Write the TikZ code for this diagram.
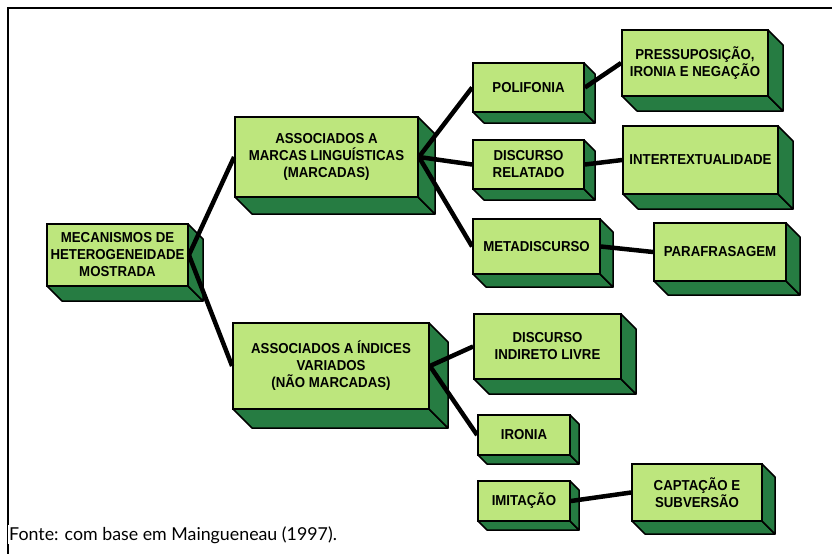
\documentclass[tikz,border=0pt]{standalone}
\usepackage{fontspec}
\setmainfont{Liberation Sans}
\newfontfamily\boxfont[FakeStretch=0.92]{Liberation Sans}
\newfontfamily\capfont{Lato}
\definecolor{lg}{RGB}{189,230,125}
\definecolor{dg}{RGB}{38,124,66}
\tikzset{
  gb/.style={draw=black, line width=1.8pt, fill=lg, inner sep=0pt, align=center,
    font=\boxfont\bfseries\fontsize{14.4}{17}\selectfont},
  sidef/.style={draw=black, line width=1.5pt, fill=dg, line join=round},
  conn/.style={line width=4.5pt, black},
  frame/.style={line width=1.5pt, black},
}
% name, x1, y1, x2, y2, depth, text
\newcommand{\gbox}[7]{%
  \filldraw[sidef] (#2,#5) -- (#4,#5) -- ({#4+#6},{#5+#6}) -- ({#2+#6},{#5+#6}) -- cycle;
  \filldraw[sidef] (#4,#3) -- ({#4+#6},{#3+#6}) -- ({#4+#6},{#5+#6}) -- (#4,#5) -- cycle;
  \node[gb, minimum width={(#4-#2)*1pt}, minimum height={(#5-#3)*1pt}] (#1) at ({(#2+#4)/2},{(#3+#5)/2}) {#7};
}
\begin{document}
\begin{tikzpicture}[x=1pt,y=-1pt]
\useasboundingbox (0,0) rectangle (832,554);
\draw[frame] (832,8) -- (8,8) -- (8,554);

\gbox{mec}{47}{224}{188}{286}{15}{MECANISMOS DE\\HETEROGENEIDADE\\MOSTRADA}
\gbox{marc}{235}{117}{418}{197}{17}{ASSOCIADOS A\\MARCAS LINGUÍSTICAS\\(MARCADAS)}
\gbox{poli}{473}{63}{584}{112}{11}{POLIFONIA}
\gbox{press}{622}{30}{768}{96}{15}{PRESSUPOSIÇÃO,\\IRONIA E NEGAÇÃO}
\gbox{drel}{473}{140}{584}{189}{11}{DISCURSO\\RELATADO}
\gbox{inter}{623}{126}{778}{194}{15}{INTERTEXTUALIDADE}
\gbox{meta}{473}{219}{600}{274}{13}{METADISCURSO}
\gbox{para}{654}{223}{786}{281}{14}{PARAFRASAGEM}
\gbox{ind}{233}{323}{429}{409}{19}{ASSOCIADOS A ÍNDICES\\VARIADOS\\(NÃO MARCADAS)}
\gbox{dil}{474}{314}{621}{379}{15}{DISCURSO\\INDIRETO LIVRE}
\gbox{iron}{478}{415}{570}{455}{9}{IRONIA}
\gbox{imit}{478}{481}{570}{521}{9}{IMITAÇÃO}
\gbox{capt}{632}{464}{762}{521}{13}{CAPTAÇÃO E\\SUBVERSÃO}

\draw[conn] (mec.east) -- (marc.west);
\draw[conn] (mec.east) -- (ind.west);
\draw[conn] (marc.east) -- (poli.west);
\draw[conn] (marc.east) -- (drel.west);
\draw[conn] (marc.east) -- (meta.west);
\draw[conn] (poli.east) -- (press.west);
\draw[conn] (drel.east) -- (inter.west);
\draw[conn] (meta.east) -- (para.west);
\draw[conn] (ind.east) -- (dil.west);
\draw[conn] (ind.east) -- (iron.west);
\draw[conn] (imit.east) -- (capt.west);

\node[anchor=base west, fill=white, inner sep=1pt, font=\capfont\fontsize{17.8}{20}\selectfont] (cap) at (8,540) {Fonte: com base em Maingueneau (1997).};
\end{tikzpicture}
\end{document}
